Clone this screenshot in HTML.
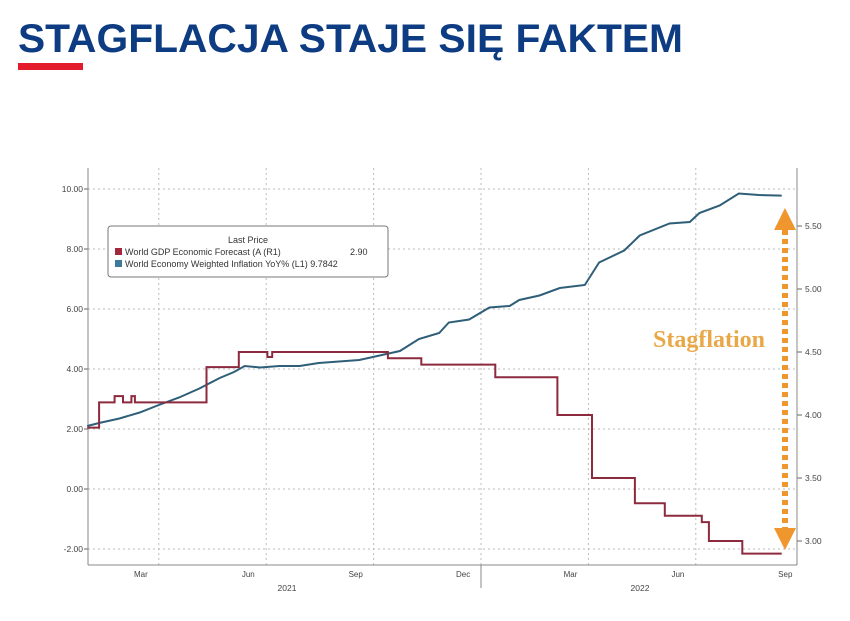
<!DOCTYPE html>
<html><head><meta charset="utf-8"><style>
body{margin:0;background:#fff;width:850px;height:621px;overflow:hidden}
svg{display:block}
text{font-family:"Liberation Sans",sans-serif}
</style></head><body>
<svg id="c" width="850" height="621" viewBox="0 0 850 621">
<text x="18" y="52" font-size="40" font-weight="bold" fill="#0e3c83" textLength="665" lengthAdjust="spacingAndGlyphs">STAGFLACJA STAJE SIĘ FAKTEM</text>
<rect x="18" y="63" width="65" height="7" fill="#e31b2b"/>
<g id="grid"></g><g id="axes"></g><g id="series"></g>
<g>
<rect x="108" y="226" width="280" height="51" rx="3" fill="#fff" stroke="#777" stroke-width="1"/>
<text x="248" y="243" font-size="9" text-anchor="middle" fill="#333">Last Price</text>
<rect x="115" y="248" width="7" height="7" fill="#a3283e"/>
<text x="125" y="255" font-size="9" fill="#333">World GDP Economic Forecast (A  (R1)</text>
<text x="350" y="255" font-size="9" fill="#333">2.90</text>
<rect x="115" y="260" width="7" height="7" fill="#3d7a9a"/>
<text x="125" y="267" font-size="9" fill="#333">World Economy Weighted Inflation YoY%  (L1) 9.7842</text>
</g>
<g>
<line x1="785" y1="230" x2="785" y2="528" stroke="#f0962e" stroke-width="6" stroke-dasharray="5,4"/>
<polygon points="785,208 774,230 796,230" fill="#f0962e"/>
<polygon points="785,550 774,528 796,528" fill="#f0962e"/>
<text x="709" y="347" font-size="24" font-weight="bold" text-anchor="middle" fill="#e9a848" style="font-family:'Liberation Serif',serif">Stagflation</text>
</g>
</svg>
<script>
const leftTicks=[10,8,6,4,2,0,-2];
const rightTicks=[5.5,5.0,4.5,4.0,3.5,3.0];
const monthLabels=["Mar","Jun","Sep","Dec","Mar","Jun","Sep"];
const monthLabelDates=["2021-03-16","2021-06-16","2021-09-16","2021-12-16","2022-03-16","2022-06-16","2022-09-16"];
const yearLabels=["2021","2022"];
const infDates=["2021-02-01","2021-02-11","2021-02-28","2021-03-15","2021-04-01","2021-04-18","2021-05-05","2021-05-22","2021-06-04","2021-06-13","2021-06-26","2021-07-12","2021-07-29","2021-08-15","2021-09-02","2021-09-19","2021-10-06","2021-10-23","2021-11-09","2021-11-26","2021-12-04","2021-12-21","2022-01-08","2022-01-25","2022-02-03","2022-02-20","2022-03-07","2022-03-28","2022-04-10","2022-05-01","2022-05-14","2022-06-09","2022-06-26","2022-07-04","2022-07-21","2022-08-07","2022-08-24","2022-09-13"];
const infValues=[2.1,2.2,2.35,2.55,2.8,3.05,3.35,3.7,3.9,4.1,4.05,4.1,4.1,4.2,4.25,4.3,4.45,4.6,5.0,5.2,5.55,5.65,6.05,6.1,6.3,6.45,6.7,6.8,7.55,7.95,8.45,8.85,8.9,9.2,9.45,9.85,9.8,9.78];
const gdpDates=["2021-02-01","2021-02-11","2021-02-24","2021-03-01","2021-03-08","2021-03-11","2021-05-11","2021-06-08","2021-07-02","2021-07-06","2021-10-13","2021-11-11","2022-01-13","2022-03-05","2022-04-04","2022-05-10","2022-06-05","2022-07-06","2022-07-12","2022-08-10","2022-09-13"];
const gdpValues=[3.9,4.1,4.15,4.1,4.15,4.1,4.38,4.5,4.46,4.5,4.45,4.4,4.3,4.0,3.5,3.3,3.2,3.15,3.0,2.9,2.9];
const NS="http://www.w3.org/2000/svg";
const X0=88,X1=797,YB=565,YT=168;
function months(d){const t=new Date(d+"T00:00:00Z");return (t.getUTCFullYear()-2021)*12+t.getUTCMonth()+(t.getUTCDate()-1)/30;}
function xs(d){return 481+(months(d)-12)*35.8;}
function yl(v){return 489-30*v;}
function yr(v){return 541-126*(v-3);}
function mk(tag,attrs,parent,txt){const e=document.createElementNS(NS,tag);for(const k in attrs)e.setAttribute(k,attrs[k]);if(txt!==undefined)e.textContent=txt;document.getElementById(parent).appendChild(e);return e;}
["2021-04-01","2021-07-01","2021-10-01","2022-01-01","2022-04-01","2022-07-01"].forEach(d=>{
 const e=mk("line",{x1:xs(d),x2:xs(d),y1:YT,y2:YB,stroke:"#bbb","stroke-dasharray":"2,3"},"grid");
 
 
});
leftTicks.forEach(v=>{
 const g=mk("line",{x1:X0,x2:X1,y1:yl(v),y2:yl(v),stroke:"#bbb","stroke-dasharray":"2,3"},"grid");
 
 
 mk("line",{x1:X0-4,x2:X0,y1:yl(v),y2:yl(v),stroke:"#666"},"axes");
 const t=mk("text",{x:X0-5,y:yl(v)+3,"font-size":"8.5","text-anchor":"end",fill:"#444"},"axes",v.toFixed(2));
 
 
});
rightTicks.forEach(v=>{
 mk("line",{x1:X1,x2:X1+5,y1:yr(v),y2:yr(v),stroke:"#666"},"axes");
 const t=mk("text",{x:X1+8,y:yr(v)+3,"font-size":"8.5",fill:"#444"},"axes",v.toFixed(2));
 
 
});
mk("line",{x1:X0,x2:X0,y1:YT,y2:YB,stroke:"#888"},"axes");
mk("line",{x1:X1,x2:X1,y1:YT,y2:YB,stroke:"#888"},"axes");
mk("line",{x1:X0,x2:X1,y1:YB,y2:YB,stroke:"#888"},"axes");
monthLabels.forEach((m,i)=>{
 const t=mk("text",{x:xs(monthLabelDates[i]),y:577,"font-size":"8","text-anchor":"middle",fill:"#444"},"axes",m);
 
 
});
mk("line",{x1:481,x2:481,y1:YB,y2:588,stroke:"#888"},"axes");
[287,640].forEach((x,i)=>{
 const t=mk("text",{x:x,y:591,"font-size":"8.5","text-anchor":"middle",fill:"#444"},"axes",yearLabels[i]);
 
 
});
let p="";infDates.forEach((d,i)=>{p+=(i?"L":"M")+xs(d).toFixed(1)+","+yl(infValues[i]).toFixed(1);});
const inf=mk("path",{d:p,fill:"none",stroke:"#2f5f78","stroke-width":"2"},"series");


let q="";gdpDates.forEach((d,i)=>{const x=xs(d).toFixed(1),y=yr(gdpValues[i]).toFixed(1);
 if(i===0)q+="M"+x+","+y;else q+="H"+x+"V"+y;});
const gdp=mk("path",{d:q,fill:"none",stroke:"#8c2a3e","stroke-width":"2"},"series");


</script>
</body></html>
